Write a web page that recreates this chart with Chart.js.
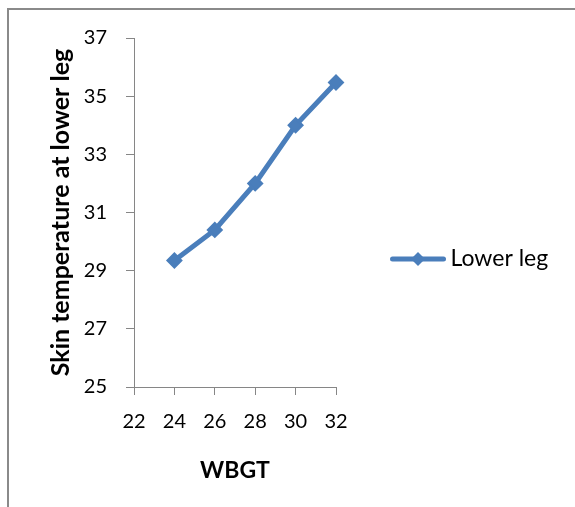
<!DOCTYPE html>
<html>
<head>
<meta charset="utf-8">
<title>Skin temperature at lower leg</title>
<script src="https://cdn.jsdelivr.net/npm/chart.js"></script>
<style>
  html, body { margin: 0; padding: 0; background: #fff; overflow: hidden; }
  /* the excel chart frame, only top and left edges are in the picture */
  #frame { position: absolute; left: 7px; top: 8px; width: 700px; height: 700px;
           border-top: 2px solid #8a8a8a; border-left: 2px solid #8a8a8a; }
  #wrap { position: absolute; left: 0; top: 0; width: 575px; height: 507px; }
</style>
</head>
<body>
<div id="frame"></div>
<div id="wrap"><canvas id="lineChart" width="575" height="507"></canvas></div>
<script>
const wbgt = [24, 26, 28, 30, 32]
const lowerLeg = [29.35, 30.4, 32.0, 34.0, 35.47]
const xTicks = [22, 24, 26, 28, 30, 32]
const yTicks = [25, 27, 29, 31, 33, 35, 37]

const blue = '#4a7ebb'
const axisGrey = '#868686'

// legend symbol = short line with a diamond on it
function legendSymbol(){
  const c = document.createElement('canvas')
  c.width = 70
  c.height = 18
  const ctx = c.getContext('2d')
  ctx.strokeStyle = blue
  ctx.fillStyle = blue
  ctx.lineWidth = 5
  ctx.lineCap = 'round'
  ctx.beginPath()
  ctx.moveTo(16.5, 9)
  ctx.lineTo(67.5, 9)
  ctx.stroke()
  ctx.beginPath()
  ctx.moveTo(42, 2)
  ctx.lineTo(49, 9)
  ctx.lineTo(42, 16)
  ctx.lineTo(35, 9)
  ctx.closePath()
  ctx.fill()
  return c
}

// chart.js caps a side legend at a quarter of the canvas, this one needs more room
const wideLegend = {
  id: 'wideLegend',
  beforeLayout(chart){
    const legend = chart.legend
    if(legend && !legend._wide){
      const fit = legend.fit.bind(legend)
      legend.fit = function(){
        fit()
        this.width = 239
      }
      legend._wide = true
    }
  }
}

Chart.defaults.font.family = 'Lato'
Chart.defaults.color = '#000'

window.onload = ()=>{
  const ctx = document.getElementById('lineChart').getContext('2d')
  new Chart(ctx, {
    type: 'line',
    data: {
      datasets: [{
        label: 'Lower leg',
        data: wbgt.map((x, i) => ({x: x, y: lowerLeg[i]})),
        borderColor: blue,
        backgroundColor: blue,
        borderWidth: 5,
        tension: 0,
        clip: false,
        pointStyle: 'rectRot',
        pointRadius: 7,
        pointBorderWidth: 2,
        pointBackgroundColor: blue,
        pointBorderColor: blue
      }]
    },
    plugins: [wideLegend],
    options: {
      responsive: false,
      animation: false,
      devicePixelRatio: 1,
      layout: {padding: {left: 8, top: 38, right: 0, bottom: 27}},
      plugins: {
        tooltip: {enabled: false},
        legend: {
          position: 'right',
          labels: {
            usePointStyle: true,
            pointStyle: legendSymbol(),
            pointStyleWidth: 56,
            padding: 47,
            font: {size: 23}
          }
        }
      },
      scales: {
        x: {
          type: 'linear',
          min: 22,
          max: 32,
          afterBuildTicks: axis => { axis.ticks = xTicks.map(v => ({value: v})) },
          afterFit: axis => { axis.height = 93 },
          grid: {drawOnChartArea: false, tickLength: 8, color: axisGrey},
          border: {color: axisGrey, width: 1},
          ticks: {padding: 15, maxRotation: 0, font: {size: 20}},
          title: {display: true, text: 'WBGT', font: {size: 23, weight: 'bold'}, padding: {top: 10, bottom: -4}}
        },
        y: {
          min: 25,
          max: 37,
          afterBuildTicks: axis => { axis.ticks = yTicks.map(v => ({value: v})) },
          afterFit: axis => { axis.width = 126 },
          grid: {drawOnChartArea: false, tickLength: 8, color: axisGrey},
          border: {color: axisGrey, width: 1},
          ticks: {padding: 19, font: {size: 20}},
          title: {display: true, text: 'Skin temperature at lower leg', font: {size: 25, weight: 'bold'}, padding: {top: 38, bottom: 0}}
        }
      }
    }
  })
}
</script>
</body>
</html>
